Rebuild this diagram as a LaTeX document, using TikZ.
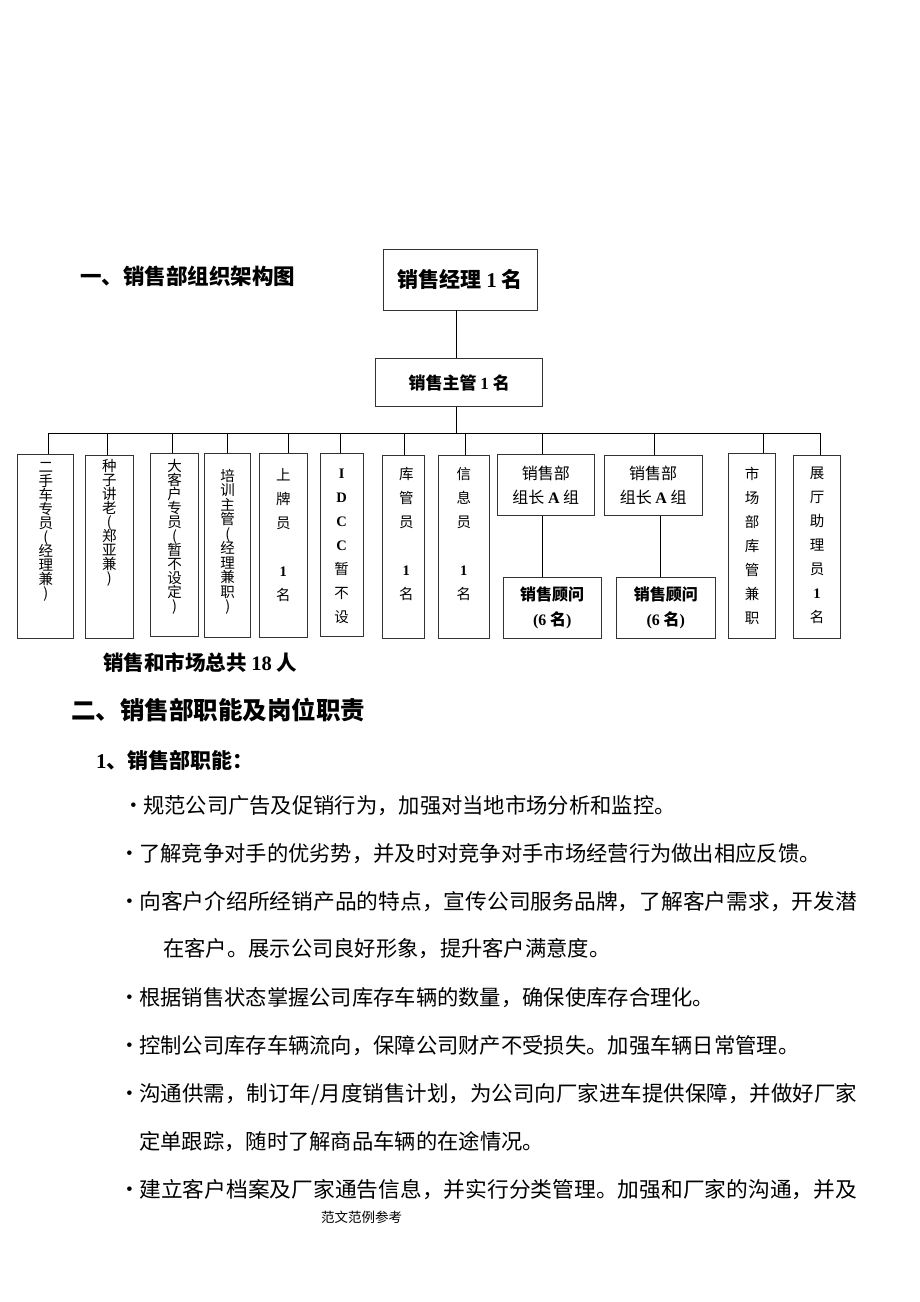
\documentclass[tikz,border=0pt]{standalone}
\usepackage{fontspec}
\setmainfont{Noto Sans CJK SC}
\newfontfamily\tms{Liberation Serif}
\newcommand{\lt}[1]{{\tms\bfseries #1}}
% column text: box height, top gap, line pitch, lines
\newcommand{\vcol}[4]{\parbox[c][#1pt][t]{30pt}{\centering\fontsize{14.5}{#3}\selectfont\lineskiplimit=-20pt\vspace*{#2pt}#4\par}}
\newcommand{\bul}{\makebox[13pt][l]{\raisebox{1.5pt}{\tms\fontsize{19}{19}\selectfont •}}}
% full line stretched to the right margin
\newcommand{\jst}[1]{\resizebox{731pt}{\height}{#1}}

\begin{document}
\begin{tikzpicture}[x=1pt,y=-1pt,
    box/.style={draw=black!80, line width=0.9pt, inner sep=0pt},
    link/.style={line width=0.8pt},
    body/.style={anchor=base west, inner sep=0pt, font=\fontsize{21.3}{21.3}\selectfont},
    head/.style={anchor=base west, inner sep=0pt}]
  \path[use as bounding box] (0,0) rectangle (920,1302);

  % Title
  \node[head, font=\bfseries\fontsize{21.5}{21.5}\selectfont] (t1) at (80,284) {一、销售部组织架构图};

  % Top boxes
  \node[box, minimum width=154pt, minimum height=61pt, font=\bfseries\fontsize{21}{21}\selectfont] (mgr) at (460,279.5) {销售经理 \lt{1} 名};
  \node[box, minimum width=167pt, minimum height=48pt, font=\bfseries\fontsize{17}{17}\selectfont] (sup) at (459.2,382.7) {销售主管 \lt{1} 名};

  % Column boxes
  \node[box, minimum width=56pt, minimum height=184pt] (b1) at (45.8,546) {\vcol{184}{8}{14}{二\\手\\车\\专\\员\\(\\经\\理\\兼\\)}};
  \node[box, minimum width=48pt, minimum height=183pt] (b2) at (109.3,546.5) {\vcol{183}{4}{14}{种\\子\\讲\\老\\(\\郑\\亚\\兼\\)}};
  \node[box, minimum width=47.6pt, minimum height=183.4pt] (b3) at (174.5,545) {\vcol{183}{6}{14}{大\\客\\户\\专\\员\\(\\暂\\不\\设\\定\\)}};
  \node[box, minimum width=46pt, minimum height=184pt] (b4) at (227.7,545) {\vcol{184}{16}{14.5}{培\\训\\主\\管\\(\\经\\理\\兼\\职\\)}};
  \node[box, minimum width=48pt, minimum height=184pt] (b5) at (283.3,545) {\vcol{184}{16}{24}{上\\牌\\员\\\mbox{}\\\lt{1}\\名}};
  \node[box, minimum width=43.3pt, minimum height=183.4pt] (b6) at (341.7,545) {\vcol{183}{15}{24}{\lt{I}\\\lt{D}\\\lt{C}\\\lt{C}\\暂\\不\\设}};
  \node[box, minimum width=41.3pt, minimum height=183pt] (b7) at (403.3,546.5) {\vcol{183}{12}{24}{\hspace*{6pt}库\\\hspace*{6pt}管\\\hspace*{6pt}员\\\mbox{}\\\hspace*{6pt}\lt{1}\\\hspace*{6pt}名}};
  \node[box, minimum width=50.3pt, minimum height=183pt] (b8) at (463.8,546.5) {\vcol{183}{12}{24}{信\\息\\员\\\mbox{}\\\lt{1}\\名}};
  \node[box, minimum width=97.7pt, minimum height=61.4pt, align=center, font=\fontsize{16}{24}\selectfont] (b9) at (545.8,485) {销售部\\组长 \lt{A} 组};
  \node[box, minimum width=98.3pt, minimum height=60.7pt, align=center, font=\fontsize{16}{24}\selectfont] (b10) at (653.2,485.3) {销售部\\组长 \lt{A} 组};
  \node[box, minimum width=46.6pt, minimum height=185pt] (b11) at (752,545.5) {\vcol{185}{14}{24}{市\\场\\部\\库\\管\\兼\\职}};
  \node[box, minimum width=46.6pt, minimum height=183pt] (b12) at (817,546.5) {\vcol{183}{12}{24}{展\\厅\\助\\理\\员\\\lt{1}\\名}};

  % Sales advisers
  \node[box, minimum width=97.7pt, minimum height=61pt, align=center, font=\bfseries\fontsize{16}{25}\selectfont] (c9) at (552.2,607.8) {销售顾问\\\lt{(6} 名\lt{)}};
  \node[box, minimum width=98.3pt, minimum height=61pt, align=center, font=\bfseries\fontsize{16}{25}\selectfont] (c10) at (665.8,607.5) {销售顾问\\\lt{(6} 名\lt{)}};

  % Lines
  \coordinate (d0) at (456,433);
  \draw[link] (mgr.south -| d0) -- (sup.north -| d0);
  \draw[link] (sup.south -| d0) -- (d0);
  \foreach \n/\x in {1/48,2/107.3,3/172.7,4/227,5/288.3,6/340.7,7/404.3,8/465.7,9/542.7,10/654.3,11/763.3,12/820.7} {
    \coordinate (d\n) at (\x,433);
    \draw[link] (d\n) -- (d\n |- b\n.north);
  }
  \draw[link] (d1) -- (d12);
  \coordinate (k9) at (542.7,0);
  \coordinate (k10) at (660.7,0);
  \draw[link] (b9.south -| k9) -- (c9.north -| k9);
  \draw[link] (b10.south -| k10) -- (c10.north -| k10);

  \node[head, font=\bfseries\fontsize{20.5}{20.5}\selectfont] (sum) at (103,670) {销售和市场总共 \lt{18} 人};

  % Section two
  \node[head, font=\bfseries\fontsize{24.5}{24.5}\selectfont] (t2) at (71,719) {二、销售部职能及岗位职责};
  \node[head, font=\bfseries\fontsize{21}{21}\selectfont] (t3) at (96,768) {\lt{1}、销售部职能：};

  \node[body] (p1) at (130,813) {\bul 规范公司广告及促销行为，加强对当地市场分析和监控。};
  \node[body] (p2) at (126,861) {\bul 了解竞争对手的优劣势，并及时对竞争对手市场经营行为做出相应反馈。};
  \node[body] (p3) at (126,909) {\jst{\bul 向客户介绍所经销产品的特点，宣传公司服务品牌，了解客户需求，开发潜}};
  \node[body] (p4) at (163,956) {在客户。展示公司良好形象，提升客户满意度。};
  \node[body] (p5) at (126,1005) {\bul 根据销售状态掌握公司库存车辆的数量，确保使库存合理化。};
  \node[body] (p6) at (126,1053) {\bul 控制公司库存车辆流向，保障公司财产不受损失。加强车辆日常管理。};
  \node[body] (p7) at (126,1101) {\jst{\bul 沟通供需，制订年/月度销售计划，为公司向厂家进车提供保障，并做好厂家}};
  \node[body] (p8) at (139,1149) {定单跟踪，随时了解商品车辆的在途情况。};
  \node[body] (p9) at (126,1197) {\jst{\bul 建立客户档案及厂家通告信息，并实行分类管理。加强和厂家的沟通，并及}};

  \node[head, font=\fontsize{13.5}{13.5}\selectfont] (foot) at (321,1222) {范文范例参考};
\end{tikzpicture}
\end{document}
